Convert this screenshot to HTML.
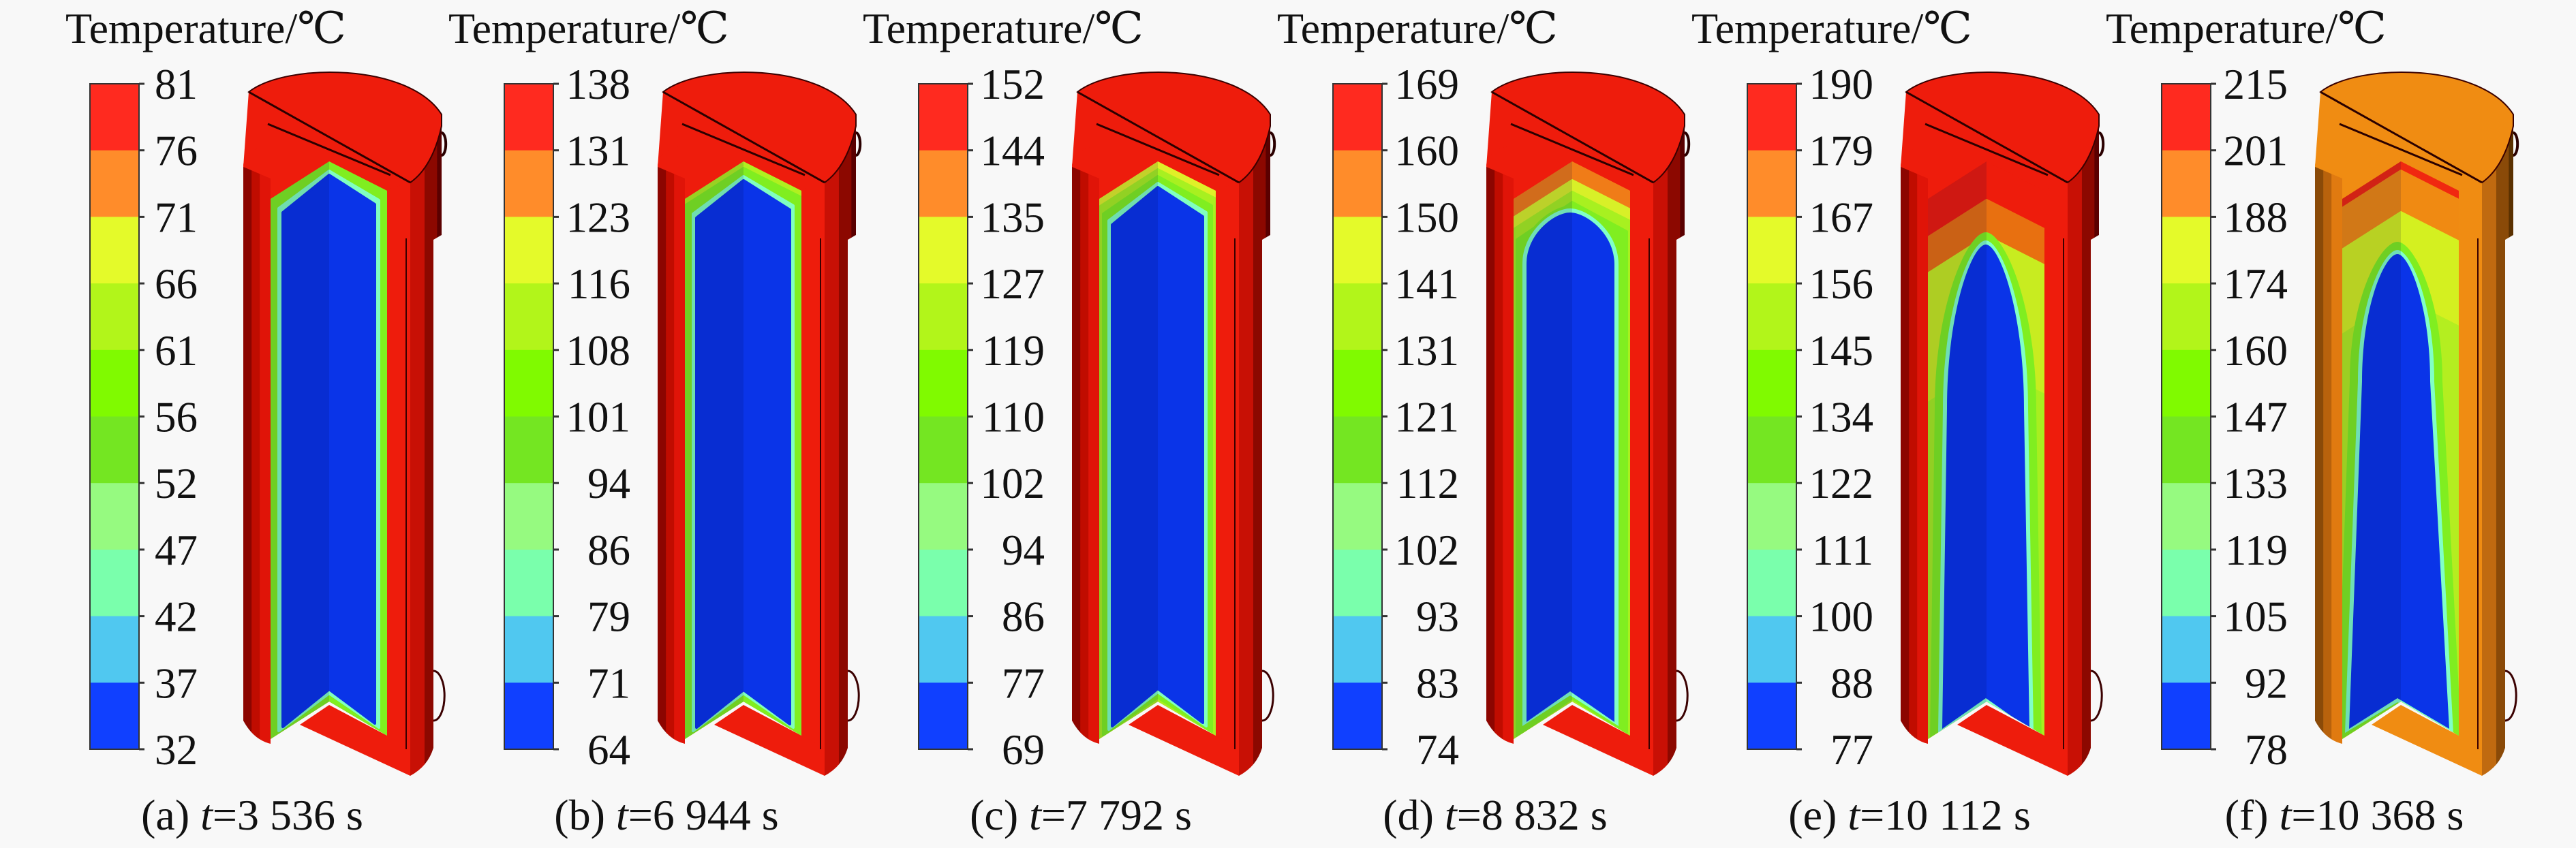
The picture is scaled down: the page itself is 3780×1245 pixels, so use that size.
<!DOCTYPE html>
<html><head><meta charset="utf-8">
<style>
html,body{margin:0;padding:0;background:#f8f8f8;}
svg{display:block;font-family:"Liberation Serif","DejaVu Serif",serif;}
</style></head>
<body>
<svg id="fig" width="3780" height="1245" viewBox="0 0 3780 1245" xmlns="http://www.w3.org/2000/svg">
<rect x="0" y="0" width="3780" height="1245" fill="#f8f8f8"/>
</svg>
<script>
const panelIds = ['a','b','c','d','e','f'];
const times = ['3 536','6 944','7 792','8 832','10 112','10 368'];
const tickLabels = [
  [81,76,71,66,61,56,52,47,42,37,32],
  [138,131,123,116,108,101,94,86,79,71,64],
  [152,144,135,127,119,110,102,94,86,77,69],
  [169,160,150,141,131,121,112,102,93,83,74],
  [190,179,167,156,145,134,122,111,100,88,77],
  [215,201,188,174,160,147,133,119,105,92,78]
];
const bandColors = ['#ff2a1f','#ff8c2a','#e4fa2a','#b2f51a','#80fa00','#74e622','#96fa80','#7affac','#50c8f0','#1040ff'];

const NS='http://www.w3.org/2000/svg';
const svg=document.getElementById('fig');
function el(tag,attrs,parent){const e=document.createElementNS(NS,tag);for(const k in attrs)e.setAttribute(k,attrs[k]);(parent||svg).appendChild(e);return e;}

const PANEL_DX=608, BAR_X=132, BAR_W=72, BAR_TOP=123, BAR_BOT=1100;
const BLUE='#0a34e8';

const redTheme={surf:'#ee1c0c',wall:'#ee1c0c',d1:'#8c0500',d2:'#c00c00',d3:'#e01408',r1:'#c81005',r2:'#8c0800',r3:'#5a0000'};
const themes=[redTheme,redTheme,redTheme,redTheme,redTheme,
 {surf:'#f08c12',wall:'#f08c12',d1:'#8a4a08',d2:'#b8620c',d3:'#e07a10',r1:'#c06a10',r2:'#8a4a08',r3:'#5a3000'}
];
const chevLayers=[
 [[0,0,0,'#80ee20'],[12,14,12,'#80ffc0'],[18,20,18,BLUE]],
 [[0,0,0,'#b0f020'],[0,10,0,'#80ee20'],[12,22,12,'#80ffc0'],[17,28,17,BLUE]],
 [[0,0,0,'#e0f028'],[0,12,0,'#a8f020'],[6,22,6,'#80ee20'],[14,32,14,'#80ffc0'],[19,38,19,BLUE]],
 [[0,0,0,'#f07c18'],[0,28,0,'#d8f028'],[0,45,0,'#a8f020'],[5,60,5,'#80ee20']],
 [[0,57,0,'#e87010'],[0,110,0,'#c8ec20'],[0,300,0,'#a8ee20']],
 [[0,0,0,'#f02810'],[0,14,0,'#f08a12'],[0,75,0,'#d4f020'],[0,200,0,'#b4ee20']]
];
const domes=[null,null,null,
 {cx:480,peak:312,yS:388,xl:416,xr:545,xlB:416,xrB:545,yB:1060,band:'#80ee20',bw:4},
 {cx:482,peak:359,yS:600,xl:425,xr:538,xlB:418,xrB:546,yB:1070,band:'#80ee20',bw:12},
 {cx:478,peak:373,yS:560,xl:426,xr:526,xlB:407,xrB:554,yB:1070,band:'#80ee20',bw:12}
];

function chev(ox,ds,dt,db){
  const p=[[397+ds,292+dt],[483,237+dt],[568-ds,280+dt],[568-ds,1080-db],[483,1030-db],[397+ds,1085-db]];
  return p.map(q=>(q[0]+ox)+','+q[1]).join(' ');
}
function domePath(ox,d,e){
  const cx=d.cx+ox, pk=d.peak-e, xl=d.xl-e+ox, xr=d.xr+e+ox, yS=d.yS, xlB=d.xlB-e+ox, xrB=d.xrB+e+ox, yB=d.yB+e;
  const h=yS-pk;
  return `M${xlB},${yB} L${xl},${yS} C${xl},${yS-h*0.6} ${cx-(cx-xl)*0.35},${pk} ${cx},${pk} C${cx+(xr-cx)*0.35},${pk} ${xr},${yS-h*0.6} ${xr},${yS} L${xrB},${yB} L${cx},${yB-45} Z`;
}
function stop(parent,off,col){const s=el('stop',{offset:off},parent);s.setAttribute('stop-color',col);return s;}

const defs=el('defs',{});

for(let i=0;i<panelIds.length;i++){
  const ox=i*PANEL_DX, t=themes[i];
  const g=el('g',{});
  
  

  const title=el('text',{x:(i===0?BAR_X-36:BAR_X-82)+ox,y:63,'font-size':64,fill:'#111'},g);
  title.textContent='Temperature/\u2103';
  
  

  const cb=el('g',{},g);
  
  
  const step=(BAR_BOT-BAR_TOP)/bandColors.length;
  bandColors.forEach((c,k)=>{
    const r=el('rect',{x:BAR_X+ox,y:BAR_TOP+k*step,width:BAR_W,height:step+0.5,fill:c},cb);
    
    
  });
  el('rect',{x:BAR_X+ox,y:BAR_TOP,width:BAR_W,height:BAR_BOT-BAR_TOP,fill:'none',stroke:'#333','stroke-width':2},cb);
  const labs=tickLabels[i];
  const tstep=(BAR_BOT-BAR_TOP)/(labs.length-1);
  labs.forEach((v,k)=>{
    const y=BAR_TOP+k*tstep;
    el('line',{x1:BAR_X+BAR_W+ox,x2:BAR_X+BAR_W+8+ox,y1:y,y2:y,stroke:'#333','stroke-width':3},cb);
    const tx=el('text',{x:(i===0?BAR_X+BAR_W+86:BAR_X+BAR_W+113)+ox,y:y+22,'font-size':63,'text-anchor':'end',fill:'#111'},cb);
    tx.textContent=v;
    
    
  });

  const cy=el('g',{},g);
  
  
  const gid='lg'+i, rid='rg'+i, cid='cp'+i;
  const lg=el('linearGradient',{id:gid,x1:0,x2:1,y1:0,y2:0},defs);
  stop(lg,'0',t.d1);stop(lg,'0.3',t.d1);stop(lg,'0.31',t.d2);stop(lg,'0.6',t.d2);stop(lg,'0.61',t.d3);stop(lg,'1',t.d3);
  const rg=el('linearGradient',{id:rid,x1:0,x2:1,y1:0,y2:0},defs);
  stop(rg,'0',t.r1);stop(rg,'0.45',t.r1);stop(rg,'0.46',t.r2);stop(rg,'0.85',t.r2);stop(rg,'0.86',t.r3);stop(rg,'1',t.r3);
  const cp=el('clipPath',{id:cid},defs);
  el('polygon',{points:chev(ox,0,0,0)},cp);

  el('path',{d:`M${602+ox},262 L${648+ox},180 L${648+ox},345 L${636+ox},352 L${636+ox},1098 Q${628+ox},1125 ${602+ox},1139 Z`,fill:`url(#${rid})`},cy);
  // filler for top region (back wall top + front top)
  el('polygon',{points:`${357+ox},245 ${365+ox},135 ${602+ox},268 ${602+ox},300 ${397+ox},300`,fill:t.surf},cy);
  el('path',{d:`M${365+ox},135 C${420+ox},92 ${600+ox},92 ${648+ox},168 L${648+ox},185 C${640+ox},222 ${625+ox},252 ${602+ox},268 Z`,fill:t.surf,stroke:'#3a0000','stroke-width':2},cy);
  el('polygon',{points:`${568+ox},278 ${602+ox},268 ${602+ox},1139 ${568+ox},1085`,fill:t.wall},cy);
  el('polygon',{points:`${440+ox},1064 ${483+ox},1035 ${602+ox},1098 ${602+ox},1139`,fill:t.wall},cy);
  el('path',{d:`M${357+ox},245 C${357+ox},226 ${372+ox},218 ${393+ox},214 L${393+ox},182 L${573+ox},257 L${568+ox},280 L${483+ox},237 L${397+ox},292 L${357+ox},292 Z`,fill:t.surf},cy);
  el('path',{d:`M${357+ox},245 L${397+ox},262 L${397+ox},1092 Q${372+ox},1086 ${357+ox},1058 Z`,fill:`url(#${gid})`},cy);
  el('polygon',{points:chev(ox,0,0,0),fill:t.wall},cy);
  const cf=el('g',{'clip-path':`url(#${cid})`},cy);
  chevLayers[i].forEach(L=>{
    el('polygon',{points:chev(ox,L[0],L[1],L[2]),fill:L[3],'stroke':L[3],'stroke-width':4,'stroke-linejoin':'round'},cf);
  });
  const dm=domes[i];
  if(dm){
    el('path',{d:domePath(ox,dm,dm.bw+6),fill:dm.band},cf);
    el('path',{d:domePath(ox,dm,6),fill:'#80ffc8'},cf);
    el('path',{d:domePath(ox,dm,0),fill:BLUE},cf);
  }
  el('rect',{x:397+ox,y:200,width:86,height:920,fill:'rgba(0,0,60,0.13)'},cf);
  el('line',{x1:365+ox,y1:135,x2:602+ox,y2:268,stroke:'#2a0000','stroke-width':3},cy);
  el('line',{x1:393+ox,y1:182,x2:573+ox,y2:257,stroke:'#2a0000','stroke-width':3},cy);
  el('line',{x1:596+ox,y1:350,x2:596+ox,y2:1100,stroke:'#3a0000','stroke-width':2},cy);
  el('path',{d:`M${636+ox},985 A16,36 0 0 1 ${636+ox},1058`,fill:'none',stroke:'#3a0000','stroke-width':3},cy);
  el('path',{d:`M${648+ox},195 A6,16 0 0 1 ${648+ox},228`,fill:'none',stroke:'#2a0000','stroke-width':4},cy);

  const cap=el('text',{x:(i===5?3440:370+ox),y:1218,'font-size':64,'text-anchor':'middle',fill:'#111'},g);
  
  
  const s1=el('tspan',{},cap); s1.textContent='('+panelIds[i]+') ';
  const s2=el('tspan',{'font-style':'italic'},cap); s2.textContent='t';
  const s3=el('tspan',{},cap); s3.textContent='='+times[i]+' s';
}
</script>
</body></html>
